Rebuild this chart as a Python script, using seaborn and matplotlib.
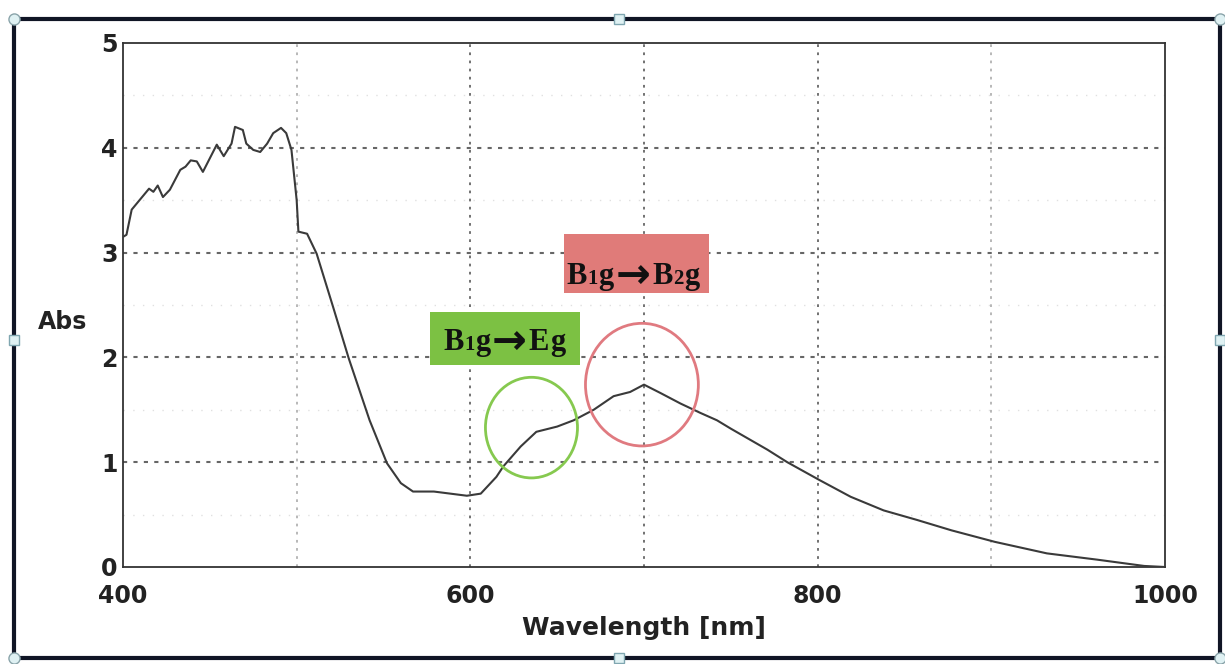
import numpy as np
import pandas as pd
import seaborn as sns
import matplotlib
matplotlib.use("Agg")
import matplotlib.pyplot as plt
from matplotlib.patches import Rectangle, Ellipse
from matplotlib.lines import Line2D

# spectrum
wavelength = [400, 402, 405, 408, 412, 415, 417.5, 420, 423, 427, 433, 436, 439, 442.5,
              446, 450, 454, 458, 462.5, 464.5, 469, 471, 475, 479, 483, 486.5, 491, 494,
              497, 500, 501, 506, 511.5, 521, 530, 542, 552, 560, 567, 579, 588.5, 598,
              606, 615, 619, 629, 638, 650, 659.5, 671, 682.5, 692, 700, 709.5, 721,
              732.5, 742, 750, 771, 782.5, 801, 819, 838, 857, 877, 902, 932, 961, 988, 1000]
absorbance = [3.15, 3.17, 3.41, 3.47, 3.55, 3.61, 3.58, 3.64, 3.53, 3.60, 3.79, 3.82, 3.88, 3.87,
              3.77, 3.90, 4.03, 3.92, 4.04, 4.20, 4.17, 4.04, 3.98, 3.96, 4.04, 4.14, 4.19, 4.14,
              3.98, 3.50, 3.20, 3.18, 2.99, 2.48, 1.99, 1.40, 0.99, 0.80, 0.72, 0.72, 0.70, 0.68,
              0.70, 0.86, 0.96, 1.15, 1.29, 1.34, 1.40, 1.50, 1.63, 1.67, 1.74, 1.66, 1.56,
              1.47, 1.40, 1.32, 1.12, 1.00, 0.83, 0.67, 0.54, 0.45, 0.35, 0.24, 0.13, 0.07, 0.01, 0.0]

x_ticks = [400, 500, 600, 700, 800, 900, 1000]
x_labels = ['400', '', '600', '', '800', '', '1000']
y_ticks = [0, 1, 2, 3, 4, 5]
y_labels = ['0', '1', '2', '3', '4', '5']

# transition labels, split so the small "1"/"2" and the arrow can be sized apart
label_eg = ['B', '1', 'g', '\u2192', 'E', 'g']
label_b2g = ['B', '1', 'g', '\u2192', 'B', '2', 'g']

sns.set_style("white")
plt.rcParams['font.family'] = ['DejaVu Sans']

df = pd.DataFrame({'wl': wavelength, 'abs': absorbance})

fig = plt.figure(figsize=(12.25, 6.64), dpi=100)
ax = fig.add_axes([123 / 1225, 1 - 567 / 664, 1042 / 1225, 524 / 664])

# grid first so the curve sits on top
for xv in [500, 600, 700, 800, 900]:
    a = 0.45 if xv in (500, 900) else 0.9
    ax.axvline(xv, color='#555555', ls=(0, (1.5, 3)), lw=1.3, alpha=a, zorder=1)
for yv in [1, 2, 3, 4]:
    ax.axhline(yv, color='#555555', ls=(0, (2, 3)), lw=1.5, alpha=0.9, zorder=1)
for yv in [0.5, 1.5, 2.5, 3.5, 4.5]:
    ax.axhline(yv, color='#999999', ls=(0, (1, 6)), lw=1, alpha=0.3, zorder=1)

sns.lineplot(data=df, x='wl', y='abs', ax=ax, color='#3a3a3a', lw=1.5, zorder=3)

ax.set_xlim(400, 1000)
ax.set_ylim(0, 5)
ax.set_xticks(x_ticks)
ax.set_xticklabels(x_labels)
ax.set_yticks(y_ticks)
ax.set_yticklabels(y_labels)
ax.set_yticks(np.arange(0.5, 5, 1.0), minor=True)
ax.tick_params(axis='both', which='both', direction='in', length=7, width=1.2, color='#333333')
ax.tick_params(axis='x', pad=12, labelsize=17, labelcolor='#222222')
ax.tick_params(axis='y', pad=4, labelsize=17, labelcolor='#222222')
for t in ax.get_xticklabels() + ax.get_yticklabels():
    t.set_fontweight('bold')
for s in ax.spines.values():
    s.set_color('#333333')
    s.set_linewidth(1.3)

ax.set_xlabel('Wavelength [nm]', fontsize=18, fontweight='bold', color='#222222')
ax.xaxis.set_label_coords(0.5, -0.116)
ax.xaxis.label.set_va('center')
ax.set_ylabel('Abs', fontsize=17, fontweight='bold', color='#222222', rotation=0)
ax.yaxis.set_label_coords(-0.0576, 0.468)
ax.yaxis.label.set_va('center')
ax.yaxis.label.set_ha('center')


def transition_label(x0, yb, parts):
    # lay the pieces out left to right on one baseline
    prev = None
    for p in parts:
        if p == '\u2192':
            st = dict(fontsize=30, family='DejaVu Sans', dy=-3, dx=1)
        elif p.isdigit():
            st = dict(fontsize=15, family=['Liberation Serif', 'DejaVu Serif'], dy=0, dx=0.5)
        else:
            st = dict(fontsize=22, family=['Liberation Serif', 'DejaVu Serif'], dy=0, dx=0.5)
        dx, dy = st.pop('dx'), st.pop('dy')
        if prev is None:
            xy, coords = (x0, yb), 'data'
        else:
            xy, coords = (1, yb), (prev, 'data')
        prev = ax.annotate(p, xy=xy, xycoords=coords, xytext=(dx, dy), textcoords='offset points',
                           ha='left', va='baseline', fontweight='bold', color='#111111',
                           zorder=5, **st)
        # offsets from the previous piece are measured without our dy shift
        if dy:
            prev = ax.annotate('', xy=(1, yb), xycoords=(prev, 'data'), xytext=(dx, 0),
                               textcoords='offset points')


# annotation boxes
ax.add_patch(Rectangle((577, 1.93), 86.4, 0.50, facecolor='#7cc143', edgecolor='none', zorder=4))
transition_label(584.0, 2.07, label_eg)
ax.add_patch(Rectangle((654.2, 2.61), 83, 0.57, facecolor='#e07b79', edgecolor='none', zorder=4))
transition_label(655.0, 2.70, label_b2g)

ax.add_patch(Ellipse((635.2, 1.33), 53, 0.96, facecolor='none', edgecolor='#86c94f', lw=2, zorder=4))
ax.add_patch(Ellipse((698.8, 1.74), 65, 1.17, facecolor='none', edgecolor='#e07a80', lw=2, zorder=4))

# selection frame around the picture
W, H = 1225, 664
fig.add_artist(Rectangle((14 / W, 1 - 658 / H), (1220 - 14) / W, (658 - 19) / H,
                         transform=fig.transFigure, facecolor='none', edgecolor='#101525', lw=3))
for (px, py) in [(14, 19), (1220, 19), (14, 658), (1220, 658)]:
    fig.add_artist(Line2D([px / W], [1 - py / H], transform=fig.transFigure, marker='o',
                          markersize=8, markerfacecolor='#dff1f3', markeredgecolor='#8aa4aa'))
for (px, py) in [(619, 19), (619, 658), (14, 340), (1220, 340)]:
    fig.add_artist(Line2D([px / W], [1 - py / H], transform=fig.transFigure, marker='s',
                          markersize=7, markerfacecolor='#dff1f3', markeredgecolor='#7fa6b0'))

fig.savefig('out.png', dpi=100)
